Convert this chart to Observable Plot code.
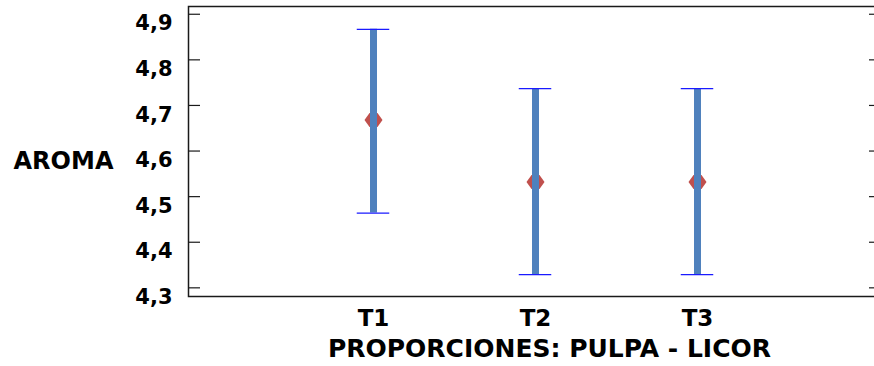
<!DOCTYPE html>
<html>
<head>
<meta charset="utf-8">
<script src="https://cdn.jsdelivr.net/npm/d3@7"></script>
<script src="https://cdn.jsdelivr.net/npm/@observablehq/plot@0.6"></script>
<style>
  html, body { margin: 0; padding: 0; background: #fff; overflow: hidden; }
  #chart svg { display: block; font-family: "DejaVu Sans", sans-serif; font-weight: bold; }
</style>
</head>
<body>
<div id="chart"></div>
<script>
const categories = ["T1", "T2", "T3"];
const means = [4.668, 4.532, 4.532];
const lower = [4.464, 4.329, 4.329];
const upper = [4.867, 4.737, 4.737];
const yTicks = [4.3, 4.4, 4.5, 4.6, 4.7, 4.8, 4.9];
const yLabel = "AROMA";
const xLabel = "PROPORCIONES: PULPA - LICOR";

const data = categories.map((c, i) => ({cat: c, mean: means[i], lo: lower[i], hi: upper[i]}));

const flatDiamond = {
  draw(context) {
    context.moveTo(-9, 0);
    context.lineTo(-4, -7);
    context.lineTo(4, -7);
    context.lineTo(9, 0);
    context.lineTo(4, 7);
    context.lineTo(-4, 7);
    context.closePath();
  }
};

const fmt = d => d.toFixed(1).replace(".", ",");
const capInset = 64.75;

const plot = Plot.plot({
  width: 874,
  height: 366,
  marginLeft: 188,
  marginRight: 0,
  marginTop: 6,
  marginBottom: 70,
  style: {fontFamily: "DejaVu Sans, sans-serif", fontWeight: "bold", color: "#000", background: "#fff"},
  x: {type: "band", domain: categories, paddingInner: 0, paddingOuter: 0.632, insetRight: -7},
  y: {domain: [4.281, 4.917]},
  marks: [
    Plot.frame({stroke: "#1a1a1a", strokeWidth: 1.5, insetRight: -7}),
    Plot.axisY(yTicks, {anchor: "left", tickSize: -12, fill: "none", stroke: "#1a1a1a", strokeWidth: 1.2}),
    Plot.axisY(yTicks, {anchor: "right", tickSize: -6, fill: "none", stroke: "#1a1a1a", strokeWidth: 1.2}),
    Plot.axisY(yTicks, {anchor: "left", tickSize: 0, tickPadding: 16, dy: 9.5, tickFormat: fmt, fontSize: 21, fill: "#000", label: null}),
    Plot.axisX(categories, {anchor: "bottom", tickSize: 0, tickPadding: 13, fontSize: 23, fill: "#000", label: null}),
    Plot.text([yLabel], {frameAnchor: "left", dx: -125, dy: 10, text: d => d, fontSize: 24, textAnchor: "middle", fill: "#000"}),
    Plot.text([xLabel], {frameAnchor: "bottom", dx: 18, dy: 60, text: d => d, fontSize: 25, textAnchor: "middle", fill: "#000"}),
    Plot.dot(data, {x: "cat", y: "mean", symbol: flatDiamond, fill: "#c0504d", stroke: "none"}),
    Plot.ruleX(data, {x: "cat", y1: "lo", y2: "hi", stroke: "#4f81bd", strokeWidth: 7}),
    Plot.tickY(data, {x: "cat", y: "hi", stroke: "#1a1aff", strokeWidth: 1.2, insetLeft: capInset, insetRight: capInset}),
    Plot.tickY(data, {x: "cat", y: "lo", stroke: "#1a1aff", strokeWidth: 1.2, insetLeft: capInset, insetRight: capInset})
  ]
});

document.getElementById("chart").appendChild(plot);
</script>
</body>
</html>
